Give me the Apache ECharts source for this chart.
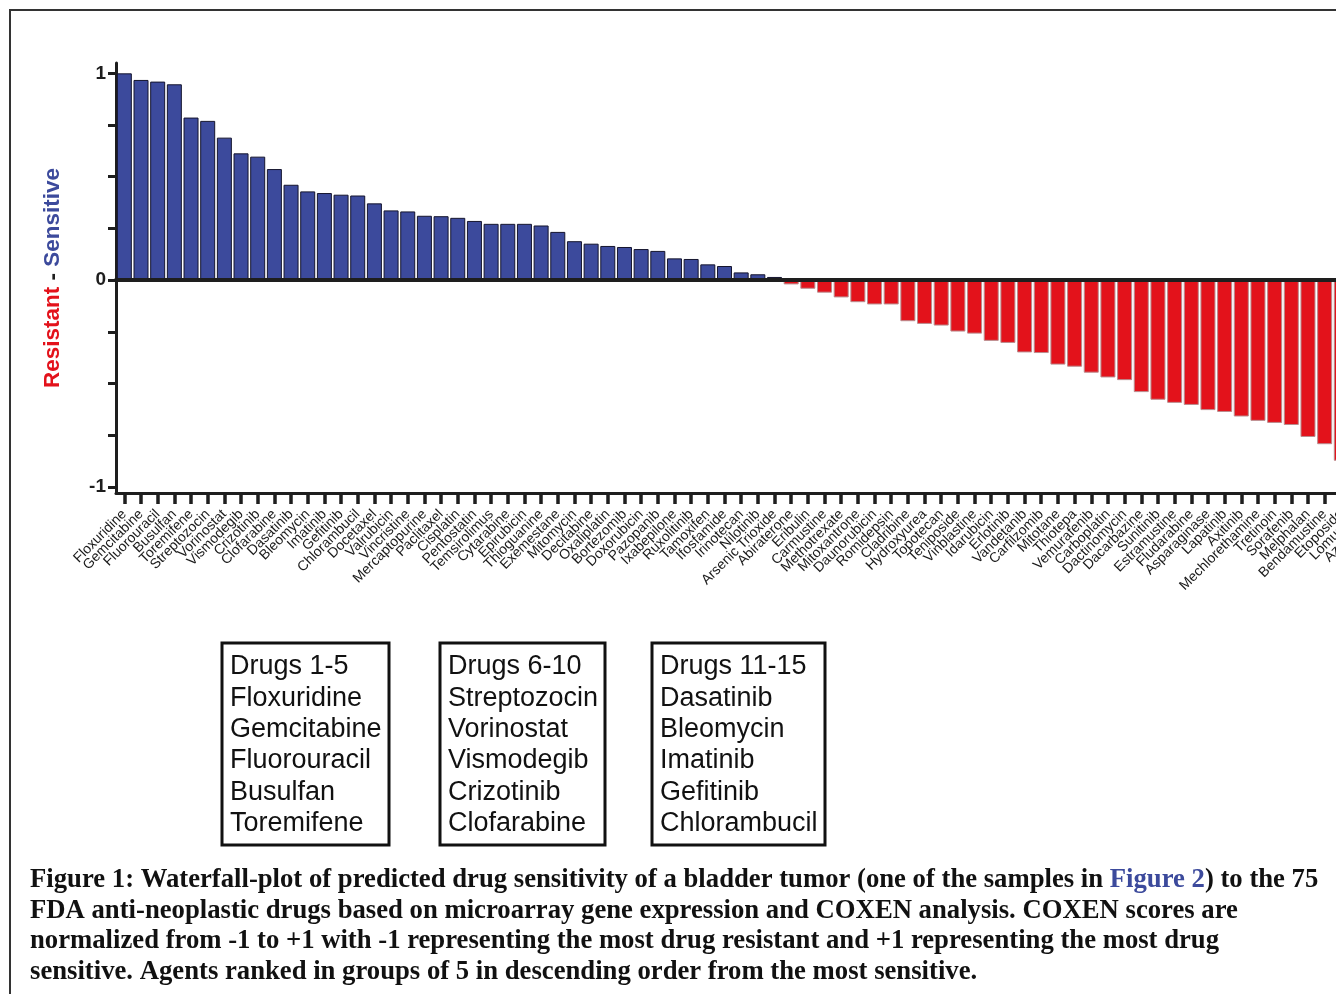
<!DOCTYPE html>
<html>
<head>
<meta charset="utf-8">
<script src="https://cdn.jsdelivr.net/npm/echarts@6/dist/echarts.min.js"></script>
<style>html,body{margin:0;padding:0;background:#fff;overflow:hidden;width:1336px;height:994px}#c{width:1383px;height:994px}</style>
</head>
<body>
<div id="c"></div>
<script>
const drugs = ["Floxuridine","Gemcitabine","Fluorouracil","Busulfan","Toremifene","Streptozocin","Vorinostat","Vismodegib","Crizotinib","Clofarabine",
"Dasatinib","Bleomycin","Imatinib","Gefitinib","Chlorambucil","Docetaxel","Valrubicin","Vincristine","Mercaptopurine","Paclitaxel",
"Cisplatin","Pentostatin","Temsirolimus","Cytarabine","Epirubicin","Thioguanine","Exemestane","Mitomycin","Decitabine","Oxaliplatin",
"Bortezomib","Doxorubicin","Pazopanib","Ixabepilone","Ruxolitinib","Tamoxifen","Ifosfamide","Irinotecan","Nilotinib","Arsenic Trioxide",
"Abiraterone","Eribulin","Carmustine","Methotrexate","Mitoxantrone","Daunorubicin","Romidepsin","Cladribine","Hydroxyurea","Topotecan",
"Teniposide","Vinblastine","Idarubicin","Erlotinib","Vandetanib","Carfilzomib","Mitotane","Thiotepa","Vemurafenib","Carboplatin",
"Dactinomycin","Dacarbazine","Sunitinib","Estramustine","Fludarabine","Asparaginase","Lapatinib","Axitinib","Mechlorethamine","Tretinoin",
"Sorafenib","Melphalan","Bendamustine","Etoposide","Lomustine","Azacitidine"];

const scores = [1.00,0.968,0.960,0.947,0.786,0.770,0.689,0.613,0.597,0.537,
0.461,0.429,0.421,0.413,0.409,0.371,0.337,0.332,0.311,0.309,
0.301,0.286,0.272,0.272,0.272,0.264,0.233,0.188,0.176,0.165,
0.160,0.150,0.141,0.105,0.102,0.076,0.068,0.037,0.028,0.015,
-0.021,-0.042,-0.061,-0.084,-0.107,-0.118,-0.118,-0.199,-0.212,-0.220,
-0.249,-0.259,-0.294,-0.304,-0.350,-0.353,-0.409,-0.419,-0.448,-0.471,
-0.484,-0.542,-0.579,-0.594,-0.604,-0.629,-0.638,-0.660,-0.681,-0.691,
-0.701,-0.759,-0.794,-0.874,-0.93,-1.0];

const yTicks = [-1,-0.75,-0.5,-0.25,0,0.25,0.5,0.75,1];
const yLabels = [-1,0,1];

const box1 = ["Drugs 1-5","Floxuridine","Gemcitabine","Fluorouracil","Busulfan","Toremifene"];
const box2 = ["Drugs 6-10","Streptozocin","Vorinostat","Vismodegib","Crizotinib","Clofarabine"];
const box3 = ["Drugs 11-15","Dasatinib","Bleomycin","Imatinib","Gefitinib","Chlorambucil"];

const captionLines = [
  ["Figure 1: Waterfall-plot of predicted drug sensitivity of a bladder tumor (one of the samples in ","Figure 2",") to the 75"],
  ["FDA anti-neoplastic drugs based on microarray gene expression and COXEN analysis. COXEN scores are"],
  ["normalized from -1 to +1 with -1 representing the most drug resistant and +1 representing the most drug"],
  ["sensitive. Agents ranked in groups of 5 in descending order from the most sensitive."]
];

const BLUE = '#3C4A9C', RED = '#E3121B', INK = '#1e1e1e';
const SANS = '"Liberation Sans", Arial, sans-serif';
const SERIF = '"Liberation Serif", "Times New Roman", serif';
const chart = echarts.init(document.getElementById('c'), null, {renderer:'canvas'});

const graphics = [];
graphics.push({type:'rect', shape:{x:10,y:10,width:1500,height:1200}, style:{fill:'none', stroke:'#333', lineWidth:2}, z:-1});
const boxes = [[box1,222,389],[box2,440,605],[box3,652,825]];
boxes.forEach(([lines,x0,x1])=>{
  graphics.push({type:'rect', shape:{x:x0,y:643,width:x1-x0,height:202}, style:{fill:'none', stroke:'#111', lineWidth:3}});
  graphics.push({type:'text', x:x0+8, y:651, style:{text:lines.join('\n'), font:'27px '+SANS, fill:'#111', lineHeight:31.4, verticalAlign:'top'}});
});
captionLines.forEach((segs,i)=>{
  let txt;
  if (segs.length===3) txt = '{a|'+segs[0]+'}{b|'+segs[1]+'}{a|'+segs[2]+'}';
  else txt = '{a|'+segs[0]+'}';
  graphics.push({type:'text', x:30, y:880+i*30.7, style:{text:txt, verticalAlign:'middle',
    rich:{a:{font:'bold 26.7px '+SERIF, fill:'#111'},
          b:{font:'bold 26.7px '+SERIF, fill:BLUE}}}});
});

chart.setOption({
  animation:false,
  backgroundColor:'#fff',
  grid:{left:116, right:0, top:63, bottom:501, containLabel:false},
  xAxis:[
    {type:'category', data:drugs, position:'bottom', z:5,
     axisLine:{onZero:true, lineStyle:{color:INK, width:4}}, axisTick:{show:false}, axisLabel:{show:false}, splitLine:{show:false}},
    {type:'category', data:drugs, position:'bottom',
     axisLine:{onZero:false, lineStyle:{color:INK, width:3}},
     axisTick:{show:true, alignWithLabel:true, length:11, lineStyle:{color:INK, width:3.5}},
     axisLabel:{interval:0, rotate:45, margin:19, fontSize:14, color:'#1a1a1a', fontFamily:SANS},
     splitLine:{show:false}}
  ],
  yAxis:{type:'value', min:-1.03, max:1.05,
    axisLine:{show:true, lineStyle:{color:INK, width:3}},
    axisTick:{show:true, customValues:yTicks, length:8, lineStyle:{color:INK, width:3}},
    axisLabel:{customValues:yLabels, fontSize:19, fontWeight:'bold', color:INK, margin:10, fontFamily:SANS},
    splitLine:{show:false},
    name:'{r|Resistant}{k| - }{s|Sensitive}', nameLocation:'middle', nameGap:52, nameRotate:90,
    nameTextStyle:{rich:{
      r:{color:RED, fontSize:22.5, fontWeight:'bold', fontFamily:SANS},
      k:{color:INK, fontSize:22.5, fontWeight:'bold', fontFamily:SANS},
      s:{color:BLUE, fontSize:22.5, fontWeight:'bold', fontFamily:SANS}}}
  },
  series:[{type:'bar', xAxisIndex:0, barCategoryGap:'10%',
    data:scores.map(v=>v>=0?{value:v,itemStyle:{color:BLUE,borderColor:'#15152e',borderWidth:1}}
                            :{value:v,itemStyle:{color:RED,borderColor:'#b98c8e',borderWidth:1}})
  }],
  graphic:graphics
});
</script>
</body>
</html>
